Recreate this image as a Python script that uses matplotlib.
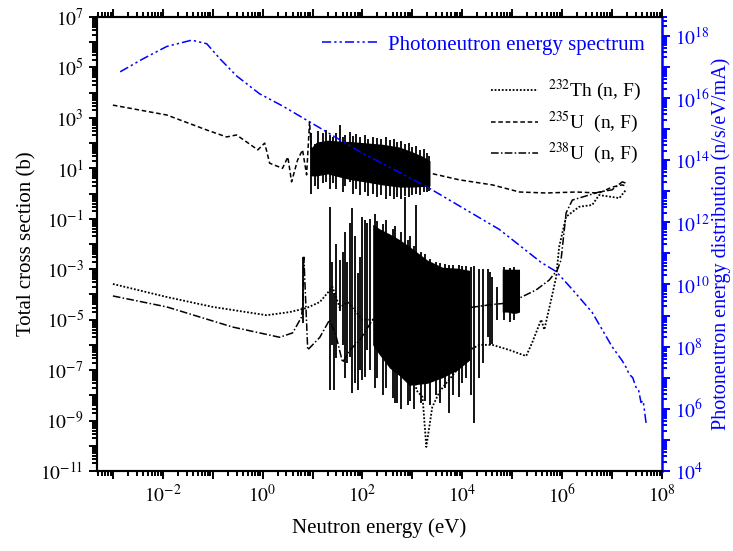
import numpy as np
import matplotlib
matplotlib.use("Agg")
import matplotlib.pyplot as plt
from matplotlib.ticker import LogLocator, NullFormatter

plt.rcParams['font.family'] = ['Liberation Serif', 'DejaVu Serif']
plt.rcParams['mathtext.fontset'] = 'stix'

# photoneutron spectrum (n/s/eV/mA), right axis
spec_E = [1.4e-3, 4e-3, 1.2e-2, 3.8e-2, 7.6e-2, 0.14, 0.3, 0.87, 2.5, 8.7, 87, 2000,
          5.5e4, 3.8e5, 7.6e5, 1.6e6, 4e6, 1e7, 1.6e7, 1.9e7, 2.2e7, 2.6e7, 3.0e7, 3.4e7,
          3.8e7, 4.2e7, 4.6e7, 4.8e7]
spec_phi = [6.9e16, 1.8e17, 4.5e17, 7.2e17, 5.5e17, 1.8e17, 5.1e16, 1.35e16, 5.5e15, 1.7e15,
            1.9e14, 1.35e13, 5.9e11, 5.1e10, 2.6e10, 6.9e9, 1.26e9, 1.0e8, 3.5e7, 2.2e7,
            1.3e7, 1.0e7, 5e6, 4e6, 1.6e6, 1.8e6, 6e5, 3.5e5]

# U-235 (n,F) smooth parts + low-energy resonances
u235_E = [1e-3, 1.2e-2, 7.6e-2, 0.19, 0.3, 0.48, 0.8, 1.1, 1.38, 2.5, 3.2, 3.8, 5.0, 6.3,
          7.6, 8.7, 10, 30, 300, 2200, 8.7e3, 4e4, 1.4e5, 4.8e5, 1.9e6, 5.5e6, 1e7, 1.6e7, 2e7]
u235_s = [3.2e3, 1.3e3, 330, 175, 210, 110, 54, 100, 16, 10, 28, 2.9, 21, 54,
          5.5, 690, 11, 40, 20, 6.5, 3.5, 2.2, 1.15, 1.05, 1.15, 1.05, 1.8, 2.2, 1.9]
# U-235 resolved resonance band (envelope) and spikes
u235_band_E = [9, 12, 20, 35, 60, 100, 250, 550, 1000, 1600, 2250]
u235_band_hi = [60, 110, 130, 120, 115, 105, 90, 70, 45, 30, 20]
u235_band_lo = [5, 5, 6, 4.5, 3.5, 3.0, 2.2, 1.8, 1.8, 1.9, 2.0]
u235_spk_E = [9.5, 11, 13, 16, 19, 22, 26, 30, 35, 40, 45, 55, 65, 75, 90, 110, 130, 160,
              200, 240, 290, 350, 420, 500, 600, 720, 850, 1000, 1200, 1400, 1700, 2000, 2200]
u235_spk_hi = [250, 90, 300, 250, 330, 200, 180, 260, 520, 170, 200, 280, 190, 230, 170, 200,
               150, 180, 160, 140, 170, 130, 150, 110, 120, 90, 100, 70, 80, 55, 60, 40, 30]
u235_spk_lo = [1.0, 2.0, 1.5, 2.5, 3, 1.5, 2.5, 1.5, 5, 1.2, 2, 3, 1.0, 1.5, 0.9, 1.2, 0.8,
               1.0, 0.7, 0.9, 0.6, 0.8, 0.6, 0.7, 0.6, 0.8, 0.7, 0.9, 1.0, 0.9, 1.1, 1.2, 1.3]

# Th-232 (n,F)
th_E = [1e-3, 1.2e-2, 0.1, 1.2, 3.5, 7.6, 14, 20, 25, 35, 50, 100, 160, 1000, 1200, 1600,
        1900, 2500, 3500, 5500, 8700, 1.4e4, 2.2e4, 4e4, 8.7e4, 1.9e5, 2.5e5, 3.8e5, 4.4e5,
        6e5, 7.6e5, 8.7e5, 1.2e6, 2.2e6, 4e6, 5.5e6, 1.4e7, 1.9e7]
th_s = [2.6e-4, 7.9e-5, 3.2e-5, 1.5e-5, 2e-5, 2.9e-5, 5e-5, 1.15e-4, 2e-4, 3e-5, 5e-5,
        1e-5, 1e-5, 1e-6, 1.6e-8, 8.5e-9, 9e-11, 3.4e-9, 1.4e-8, 4.3e-8, 1.3e-7, 6.3e-7,
        1e-6, 1e-6, 6.3e-7, 3.6e-7, 1.2e-6, 1e-5, 4e-6, 6e-5, 4.9e-4, 7.6e-3, 0.12, 0.3,
        0.35, 0.87, 0.66, 1.4]

# U-238 (n,F)
u238_E = [1e-3, 1.2e-2, 0.25, 2.2, 4, 6, 6.4, 6.7, 8, 14, 22, 30, 40, 55, 90, 160, 1000,
          1.4e4, 4e4, 8.7e4, 1.4e5, 3e5, 5.5e5, 8e5, 9.5e5, 1.2e6, 1.6e6, 5.5e6, 1e7,
          1.6e7, 2e7]
u238_s = [8.7e-5, 3.2e-5, 5.1e-6, 2e-6, 3e-6, 1.26e-5, 4.6e-5, 3e-3, 6.3e-7, 2e-6, 1e-5,
          2e-6, 2e-7, 6e-7, 1.6e-6, 1e-5, 1e-5, 3e-5, 4e-5, 4.6e-5, 7.2e-5, 1.5e-4, 3.7e-4,
          9.3e-4, 2.3e-3, 0.17, 0.55, 1.15, 1.4, 2.9, 2.5]

# Th-232 / U-238 resonance region (envelopes and spikes)
res_band_E = [160, 220, 350, 550, 870, 2000, 4000, 8000, 1.4e4]
res_band_hi = [0.06, 0.04, 0.025, 0.015, 8e-3, 2.3e-3, 1.2e-3, 1.1e-3, 9e-4]
res_band_lo = [1e-6, 4e-7, 1.2e-7, 6e-8, 2.5e-8, 3e-8, 5e-8, 1e-7, 2.5e-7]
res2_band_E = [6.3e4, 8e4, 1.0e5, 1.2e5, 1.4e5]
res2_band_hi = [1.0e-3, 1.0e-3, 1.0e-3, 1.0e-3, 1.0e-3]
res2_band_lo = [2e-5, 2e-5, 1.8e-5, 1.8e-5, 2e-5]
res_spk_E = [6.3, 22, 27, 35, 55, 63, 80, 110, 125, 500, 700, 1200, 5500, 8700, 1.7e4,
             2.2e4, 3.2e4, 4e4, 5e4,
             25, 30, 40, 45, 50, 70, 90, 100, 140, 180, 200, 260, 300, 400, 450, 600, 800,
             900, 1100, 1500, 1800, 2300, 3000, 3500, 4500, 6500, 1.0e4, 1.2e4, 1.5e4,
             2.6e4, 3.6e4, 7e4, 9e4, 1.1e5]
res_spk_lo = [7.3e-6, 1.6e-8, 1.6e-8, 2.2e-5, 3.3e-7, 1.2e-8, 1.6e-8, 5.4e-8, 6.3e-7,
              5e-9, 1e-6, 1e-5, 2e-9, 8.5e-9, 8e-10, 5e-8, 2e-6, 1.1e-6, 1e-5,
              1e-6, 3e-7, 1e-6, 5e-8, 2e-7, 3e-8, 1e-7, 4e-8, 1e-7, 2e-8, 5e-8, 1e-8, 2e-8,
              8e-9, 5e-9, 3e-9, 4e-9, 6e-9, 3e-9, 5e-9, 6e-9, 4e-9, 1e-8, 5e-9, 2e-8, 1e-8,
              3e-8, 5e-8, 1e-8, 2e-7, 1e-6, 1e-5, 8e-6, 1e-5]
res_spk_hi = [3e-3, 0.29, 1.1e-4, 2.3e-3, 0.071, 0.27, 7e-4, 0.09, 0.068, 1e-3, 0.72,
              0.35, 1.5e-3, 1.5e-3, 1.3e-3, 1e-3, 1e-3, 5e-4, 2e-4,
              2e-3, 1e-2, 5e-3, 0.03, 2e-3, 0.02, 3e-3, 0.12, 0.1, 0.15, 0.08, 0.06, 0.09,
              0.04, 0.05, 0.03, 0.015, 0.02, 8e-3, 5e-3, 4e-3, 2.5e-3, 2e-3, 1.8e-3, 1.6e-3,
              1.5e-3, 1.3e-3, 1.4e-3, 1.2e-3, 1e-3, 8e-4, 1.2e-3, 1.1e-3, 1.2e-3]

xticks = [10.0 ** k for k in range(-3, 9)]
yticks = [10.0 ** k for k in range(-11, 8)]
y2ticks = [10.0 ** k for k in range(4, 19)]


def dec_labels(ticks, parity):
    out = []
    for t in ticks:
        k = int(round(np.log10(t)))
        out.append(r'$10^{%d}$' % k if k % 2 == parity else '')
    return out


fig = plt.figure(figsize=(7.33, 5.51), dpi=100)
ax = fig.add_axes([0.1323, 0.1452, 0.7708, 0.824])
ax2 = ax.twinx()

ax.fill_between(u235_band_E, u235_band_lo, u235_band_hi, color='black', lw=0)
ax.vlines(u235_spk_E, u235_spk_lo, u235_spk_hi, color='black', lw=1.3)
ax.fill_between(res_band_E, res_band_lo, res_band_hi, color='black', lw=0)
ax.fill_between(res2_band_E, res2_band_lo, res2_band_hi, color='black', lw=0)
ax.vlines(res_spk_E, res_spk_lo, res_spk_hi, color='black', lw=1.3)

l_th, = ax.plot(th_E, th_s, color='black', lw=1.3, ls=(0, (1, 1)))
l_u5, = ax.plot(u235_E, u235_s, color='black', lw=1.1, ls=(0, (3, 1.8)))
l_u8, = ax.plot(u238_E, u238_s, color='black', lw=1.1, ls=(0, (5, 1.5, 1, 1.5)))

l_sp, = ax2.plot(spec_E, spec_phi, color='blue', lw=1.1, ls=(0, (6, 2, 1.5, 2, 1.5, 2)))

ax.set_xscale('log')
ax.set_yscale('log')
ax2.set_yscale('log')
ax.set_xlim(4.8e-4, 1e8)
ax.set_ylim(1e-11, 1e7)
ax2.set_ylim(1e4, 4e18)

ax.set_xticks(xticks)
ax.set_xticklabels(dec_labels(xticks, 0))
ax.set_yticks(yticks)
ax.set_yticklabels(dec_labels(yticks, 1))
ax2.set_yticks(y2ticks)
ax2.set_yticklabels(dec_labels(y2ticks, 0))
ax.xaxis.set_minor_locator(LogLocator(base=10, subs=np.arange(2, 10), numticks=100))
ax.yaxis.set_minor_locator(LogLocator(base=10, subs=np.arange(2, 10), numticks=100))
ax2.yaxis.set_minor_locator(LogLocator(base=10, subs=np.arange(2, 10), numticks=100))
for a in (ax.xaxis, ax.yaxis, ax2.yaxis):
    a.set_minor_formatter(NullFormatter())

ax.xaxis.set_ticks_position('both')
ax.tick_params(which='both', direction='out', width=1.4, labelsize=14, top=True)
ax.tick_params(which='major', length=6)
ax.tick_params(which='minor', length=3.5)
ax2.tick_params(which='both', direction='out', width=1.4, labelsize=14,
                color='blue', labelcolor='blue')
ax2.tick_params(which='major', length=6)
ax2.tick_params(which='minor', length=3.5)

for s in ('left', 'bottom', 'top'):
    ax.spines[s].set_linewidth(1.5)
    ax2.spines[s].set_linewidth(1.5)
ax2.spines['right'].set_linewidth(1.8)
ax2.spines['right'].set_color('blue')
ax.spines['right'].set_visible(False)

ax.set_xlabel('Neutron energy (eV)', fontsize=15, labelpad=8)
ax.set_ylabel('Total cross section (b)', fontsize=15, labelpad=3)
ax2.set_ylabel('Photoneutron energy distribution (n/s/eV/mA)', fontsize=14.5,
               color='blue', labelpad=1)

leg1 = ax.legend([l_th, l_u5, l_u8],
                 [r'$^{232}$Th (n, F)', r'$^{235}$U  (n, F)', r'$^{238}$U  (n, F)'],
                 loc='upper right', bbox_to_anchor=(0.962, 0.865), frameon=False,
                 fontsize=14, handlelength=2.4, handletextpad=0.5, labelspacing=0.32,
                 borderpad=0, borderaxespad=0)
leg2 = ax2.legend([l_sp], ['Photoneutron energy spectrum'], loc='upper right',
                  bbox_to_anchor=(0.97, 0.96), frameon=False, fontsize=15,
                  handlelength=2.7, handletextpad=0.5, borderpad=0, borderaxespad=0,
                  labelcolor='blue')

fig.savefig('out.png', dpi=100)
